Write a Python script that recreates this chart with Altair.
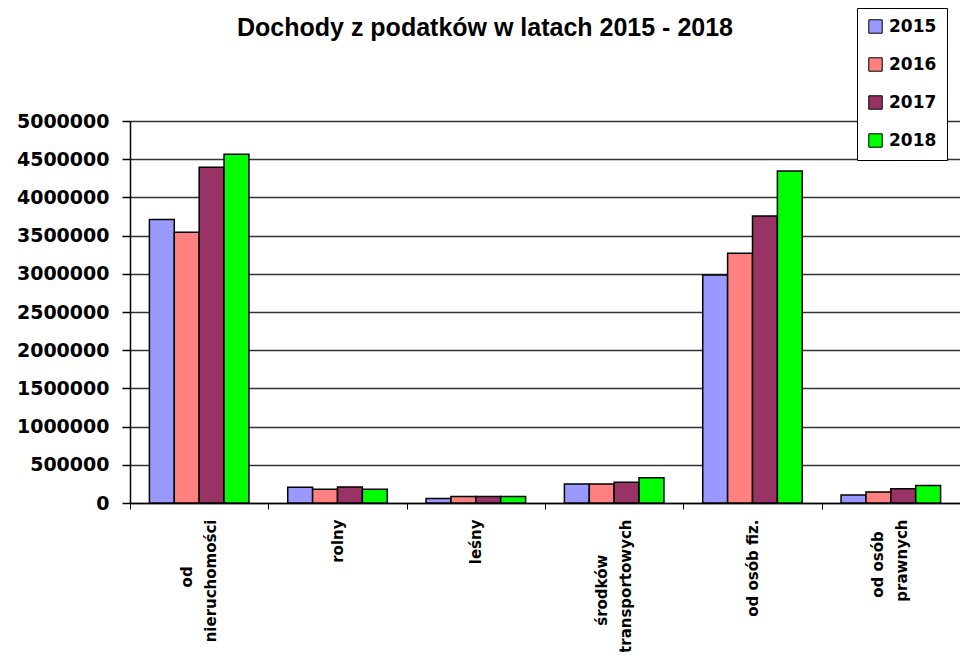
import json
import altair as alt
import pandas as pd

categories = ["od\nnieruchomości", "rolny", "leśny", "środków\ntransportowych", "od osób fiz.", "od osób\nprawnych"]
years = ["2015", "2016", "2017", "2018"]
v2015 = [3710000, 205000, 60000, 250000, 2985000, 105000]
v2016 = [3545000, 180000, 85000, 250000, 3270000, 145000]
v2017 = [4395000, 210000, 85000, 270000, 3755000, 185000]
v2018 = [4565000, 180000, 85000, 330000, 4345000, 230000]
colors = ["#9999FF", "#FF8080", "#993366", "#00FF00"]
y_ticks = list(range(0, 5000001, 500000))

rows = []
for yr, vals in zip(years, [v2015, v2016, v2017, v2018]):
    for c, v in zip(categories, vals):
        rows.append({"category": c, "year": yr, "value": v})
df = pd.DataFrame(rows)

# centre the shorter line of a two-line label (rotated text) with blank filler glyphs
BLANK = "\u2800"
line_pad = {"od\nnieruchomości": 4, "środków\ntransportowych": 3, "od osób\nprawnych": 1}
expr = "datum.label"
for cat, n in line_pad.items():
    first, second = cat.split("\n")
    arr = json.dumps([first + BLANK * n, second], ensure_ascii=False)
    expr = f"datum.value == {json.dumps(cat, ensure_ascii=False)} ? {arr} : ({expr})"

W, H = 830, 382
step = W / len(categories)

chart = alt.Chart(df).mark_bar(stroke="black", strokeWidth=1.5).encode(
    x=alt.X("category:N", sort=categories,
            scale=alt.Scale(paddingInner=0, paddingOuter=0),
            axis=alt.Axis(title=None, labelAngle=-90, labelAlign="right",
                          labelBaseline={"condition": {"test": "indexof(datum.value, '\\n') >= 0",
                                                       "value": "line-bottom"},
                                         "value": "middle"},
                          labelExpr=expr,
                          labelFont="DejaVu Sans", labelFontWeight="bold", labelFontSize=15,
                          labelLineHeight=24, labelColor="black",
                          tickOffset=-step / 2, labelOffset=step / 2,
                          tickSize=6, tickColor="black", domainColor="black", domainWidth=1.5,
                          labelPadding=10, grid=False)),
    xOffset=alt.XOffset("year:N", sort=years, scale=alt.Scale(paddingInner=0, paddingOuter=0.78)),
    y=alt.Y("value:Q", scale=alt.Scale(domain=[0, 5000000], nice=False),
            axis=alt.Axis(title=None, values=y_ticks, format="d",
                          labelFont="DejaVu Sans", labelFontWeight="bold", labelFontSize=19,
                          labelColor="black", labelPadding=13, tickSize=8, tickColor="black",
                          tickWidth=1.5, domainColor="black", domainWidth=1.5,
                          grid=True, gridColor="#333333", gridWidth=1.3)),
    color=alt.Color("year:N", sort=years, scale=alt.Scale(domain=years, range=colors),
                    legend=alt.Legend(title=None, orient="none", legendX=727, legendY=-113,
                                      fillColor="white", strokeColor="black", padding=10,
                                      symbolType="square", symbolSize=180, symbolStrokeColor="black",
                                      symbolStrokeWidth=1, labelFont="DejaVu Sans",
                                      labelFontWeight="bold", labelFontSize=17, labelColor="black",
                                      rowPadding=19, labelOffset=5)),
).properties(
    width=W, height=H,
    autosize=alt.AutoSizeParams(type="none"),
    padding={"left": 122, "top": 113, "right": 0, "bottom": 149},
    title=alt.Title("Dochody z podatków w latach 2015 - 2018", font="Liberation Sans",
                    fontSize=25, fontWeight="bold", color="black", anchor="middle",
                    dx=-60, offset=-33),
).configure_view(fill="#FFFFCC", stroke=None).configure(background="white")

chart.save("out.html", embed_options={"renderer": "svg", "actions": False})
